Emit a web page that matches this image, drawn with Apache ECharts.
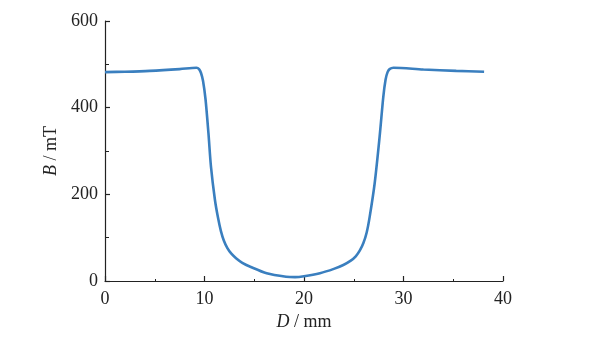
<!DOCTYPE html>
<html><head><meta charset="utf-8">
<script src="https://cdn.jsdelivr.net/npm/echarts@6/dist/echarts.min.js"></script>
<style>html,body{margin:0;padding:0;background:#fff}#c{width:590px;height:340px}</style>
</head><body><div id="c"></div>
<script>
const dValues = [0, 2, 4.5, 7.5, 9.2, 9.45, 9.65, 9.85, 10.1, 10.4, 10.65, 11.05, 11.35, 11.65, 11.95, 12.3, 12.7, 13.2, 13.8, 14.6, 16.25, 18.2, 19.1, 20, 21.6, 23.0, 23.95, 24.7, 25.2, 25.6, 25.96, 26.3, 26.6, 27.1, 27.6, 27.97, 28.2, 28.4, 28.6, 29, 32, 35.3, 38.1];
const bValues = [482, 483, 485, 489, 492, 489, 480, 462, 420, 340, 264, 187, 147, 115, 93, 76, 63, 52, 42, 33, 18, 10, 9, 11, 18, 28, 37, 47, 57, 70, 87, 112, 148, 225, 333, 425, 465, 482, 489, 492, 488, 485, 483];
const xTicks = [0, 10, 20, 30, 40];
const yTicks = [0, 200, 400, 600];

const chart = echarts.init(document.getElementById('c'), null, {renderer: 'canvas'});
const font = 'Liberation Serif';
const axisColor = '#222';
chart.setOption({
  animation: false,
  grid: {left: 105, right: 87, top: 21, bottom: 59},
  xAxis: {
    type: 'value', min: xTicks[0], max: xTicks[xTicks.length - 1], interval: 10,
    axisLine: {show: true, lineStyle: {color: axisColor, width: 1.2}},
    axisTick: {show: true, inside: true, length: 5, lineStyle: {color: axisColor, width: 1.2}},
    minorTick: {show: true, splitNumber: 2, length: 2, lineStyle: {color: axisColor, width: 1}},
    splitLine: {show: false},
    axisLabel: {fontFamily: font, fontSize: 18, color: '#222', margin: 9},
    name: '{i|D} / mm', nameLocation: 'middle', nameGap: 32,
    nameTextStyle: {fontFamily: font, fontSize: 18, color: '#222',
      rich: {i: {fontFamily: font, fontStyle: 'italic', fontSize: 18, color: '#222'}}}
  },
  yAxis: {
    type: 'value', min: yTicks[0], max: yTicks[yTicks.length - 1], interval: 200,
    axisLine: {show: true, lineStyle: {color: axisColor, width: 1.2}},
    axisTick: {show: true, inside: true, length: 5, lineStyle: {color: axisColor, width: 1.2}},
    minorTick: {show: true, splitNumber: 2, length: 4, lineStyle: {color: axisColor, width: 1}},
    splitLine: {show: false},
    axisLabel: {fontFamily: font, fontSize: 18, color: '#222', margin: 7},
    name: '{i|B} / mT', nameLocation: 'middle', nameGap: 43, nameRotate: 90,
    nameTextStyle: {fontFamily: font, fontSize: 18, color: '#222',
      rich: {i: {fontFamily: font, fontStyle: 'italic', fontSize: 18, color: '#222'}}}
  },
  series: [{
    type: 'line', data: dValues.map((d, i) => [d, bValues[i]]),
    showSymbol: false, smooth: 0.3,
    lineStyle: {color: '#3a7fbf', width: 2.6}
  }]
});
</script></body></html>
